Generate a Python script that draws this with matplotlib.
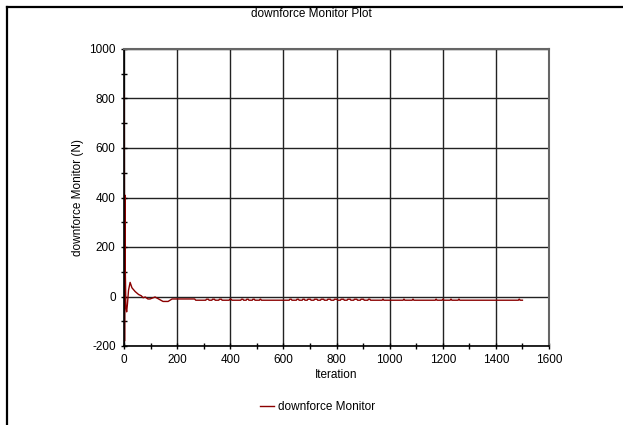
import matplotlib.pyplot as plt
from matplotlib.lines import Line2D
from matplotlib.ticker import MultipleLocator

plt.rcParams['font.family'] = ['Liberation Sans', 'DejaVu Sans']
plt.rcParams['axes.unicode_minus'] = False

# monitor history (iteration, downforce N)
iteration = [1, 2, 3, 4, 5, 7, 10, 13, 17, 23, 30, 42, 55, 65, 72, 80, 90,
             98, 108, 117, 130, 147, 166, 181, 200, 266, 270,
             308, 310, 318, 320, 331, 333, 341, 343, 357, 359, 367, 369,
             396, 398, 404, 406, 440, 442, 448, 450, 460, 462, 468, 470,
             483, 485, 491, 493, 510, 512, 515, 517,
             622, 624, 630, 632, 649, 651, 657, 659, 671, 673, 679, 681,
             690, 692, 702, 704, 715, 717, 727, 729, 740, 742, 752, 754,
             765, 767, 777, 779, 790, 792, 802, 804, 815, 817, 827, 829,
             840, 842, 852, 854, 865, 867, 877, 879, 890, 892, 902, 904,
             918, 920, 926, 928, 972, 974, 976, 978,
             1051, 1053, 1055, 1057, 1085, 1087, 1089, 1091,
             1172, 1174, 1176, 1178, 1198, 1200, 1202, 1204,
             1228, 1230, 1232, 1234, 1258, 1260, 1262, 1264,
             1485, 1487, 1489, 1491, 1500]
downforce = [825, -180, 410, 60, 100, -40, -62, -30, 25, 57, 35, 20, 8, 3, -5, -2, -10,
             -10, -6, -2, -10, -20, -20, -10, -10, -10, -15,
             -15, -11, -11, -15, -15, -11, -11, -15, -15, -11, -11, -15,
             -15, -11, -11, -15, -15, -11, -11, -15, -15, -11, -11, -15,
             -15, -11, -11, -15, -15, -11, -11, -15,
             -15, -11, -11, -15, -15, -11, -11, -15, -15, -11, -11, -15,
             -15, -11, -11, -15, -15, -11, -11, -15, -15, -11, -11, -15,
             -15, -11, -11, -15, -15, -11, -11, -15, -15, -11, -11, -15,
             -15, -11, -11, -15, -15, -11, -11, -15, -15, -11, -11, -15,
             -15, -11, -11, -15, -15, -11, -11, -15,
             -15, -11, -11, -15, -15, -11, -11, -15,
             -15, -11, -11, -15, -15, -11, -11, -15,
             -15, -11, -11, -15, -15, -11, -11, -15,
             -15, -11, -11, -15, -15]

fig = plt.figure(figsize=(6.23, 4.25), dpi=100)
ax = fig.add_axes([124 / 623, 1 - 346 / 425, 425 / 623, 297 / 425])

ax.plot(iteration, downforce, color='#8b0000', linewidth=1, label='downforce Monitor')

ax.set_xlim(0, 1600)
ax.set_ylim(-200, 1000)
ax.xaxis.set_major_locator(MultipleLocator(200))
ax.xaxis.set_minor_locator(MultipleLocator(100))
ax.yaxis.set_major_locator(MultipleLocator(200))
ax.yaxis.set_minor_locator(MultipleLocator(100))
ax.tick_params(which='both', direction='inout', length=5, width=1, labelsize=8.5, color='black')
ax.grid(True, which='major', color='#222222', linewidth=1)

for side in ['left', 'bottom']:
    ax.spines[side].set_color('black')
    ax.spines[side].set_linewidth(1.2)
for side in ['top', 'right']:
    ax.spines[side].set_color('#666666')
    ax.spines[side].set_linewidth(1.5)

ax.set_xlabel('Iteration', fontsize=8.5, labelpad=2)
ax.set_ylabel('downforce Monitor (N)', fontsize=8.5, labelpad=4)
fig.text(0.5, 1 - 14 / 425, 'downforce Monitor Plot', ha='center', va='center', fontsize=8.5)

fig.legend(loc='center', bbox_to_anchor=(0.51, 1 - 407 / 425), frameon=False,
           handlelength=1.2, handletextpad=0.3, fontsize=8.5)

# black frame on the left and top of the picture
fig.add_artist(Line2D([6.5 / 623, 6.5 / 623], [0, 1 - 6.5 / 425], color='black', linewidth=1.6,
                      transform=fig.transFigure))
fig.add_artist(Line2D([6.5 / 623, 1], [1 - 6.5 / 425, 1 - 6.5 / 425], color='black', linewidth=1.6,
                      transform=fig.transFigure))

fig.savefig('out.png', dpi=100)
